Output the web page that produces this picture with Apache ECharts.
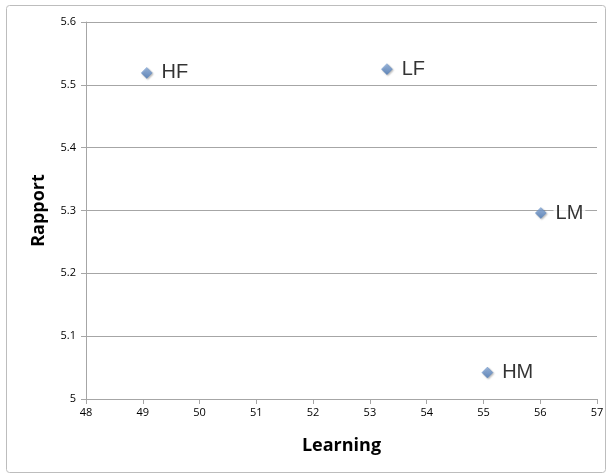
<!DOCTYPE html>
<html><head><meta charset="utf-8">
<script src="https://cdn.jsdelivr.net/npm/echarts@6/dist/echarts.min.js"></script>
<style>html,body{margin:0;padding:0;background:#fff}#c{width:612px;height:474px}</style>
</head><body><div id="c"></div>
<script>
const groups = ['HF', 'LF', 'LM', 'HM'];
const learning = [49.07, 53.30, 56.01, 55.07];
const rapport = [5.519, 5.525, 5.296, 5.042];
const xTicks = [48, 49, 50, 51, 52, 53, 54, 55, 56, 57];
const yTicks = [5, 5.1, 5.2, 5.3, 5.4, 5.5, 5.6];

const chart = echarts.init(document.getElementById('c'), null, {renderer: 'canvas'});
const data = groups.map((g, i) => ({value: [learning[i], rapport[i]], name: g}));
chart.setOption({
  animation: false,
  graphic: [{type: 'rect', shape: {x: 6.5, y: 5.5, width: 599, height: 467, r: 3},
    style: {fill: 'none', stroke: '#bdbdbd', lineWidth: 1}, silent: true}],
  grid: {left: 86, right: 15, top: 22, bottom: 75},
  xAxis: {
    type: 'value', min: xTicks[0], max: xTicks[xTicks.length - 1], interval: 1,
    name: 'Learning', nameLocation: 'middle', nameGap: 38,
    nameTextStyle: {fontFamily: 'Open Sans', fontWeight: 'bold', fontSize: 18, color: '#000'},
    axisLine: {show: true, lineStyle: {color: '#a6a6a6', width: 1}},
    axisTick: {show: true, length: 5, inside: false, lineStyle: {color: '#a6a6a6'}},
    axisLabel: {fontFamily: 'Open Sans', fontSize: 11, color: '#000', margin: 8},
    splitLine: {show: false}
  },
  yAxis: {
    type: 'value', min: yTicks[0], max: yTicks[yTicks.length - 1], interval: 0.1,
    name: 'Rapport', nameLocation: 'middle', nameGap: 38, nameRotate: 90,
    nameTextStyle: {fontFamily: 'Open Sans', fontWeight: 'bold', fontSize: 18, color: '#000'},
    axisLine: {show: true, lineStyle: {color: '#a6a6a6', width: 1}},
    axisTick: {show: true, length: 5, lineStyle: {color: '#a6a6a6'}},
    axisLabel: {fontFamily: 'Open Sans', fontSize: 11, color: '#000', margin: 10,
      formatter: v => (Math.round(v * 10) / 10).toString()},
    splitLine: {show: true, lineStyle: {color: '#a6a6a6', width: 1}}
  },
  series: [{
    type: 'scatter', symbol: 'diamond', symbolSize: 11,
    data: data,
    itemStyle: {
      color: new echarts.graphic.LinearGradient(0, 0, 0, 1, [
        {offset: 0, color: '#8fb1e0'}, {offset: 1, color: '#4a79b8'}]),
      borderColor: '#5a86c0', borderWidth: 0.5,
      shadowColor: 'rgba(0,0,0,0.35)', shadowBlur: 2, shadowOffsetX: 1, shadowOffsetY: 1
    },
    label: {show: true, position: 'right', distance: 7, formatter: p => p.name,
      fontFamily: 'Liberation Sans', fontSize: 20, color: '#000', backgroundColor: '#fff', padding: [0, 2]}
  }]
});
</script></body></html>
